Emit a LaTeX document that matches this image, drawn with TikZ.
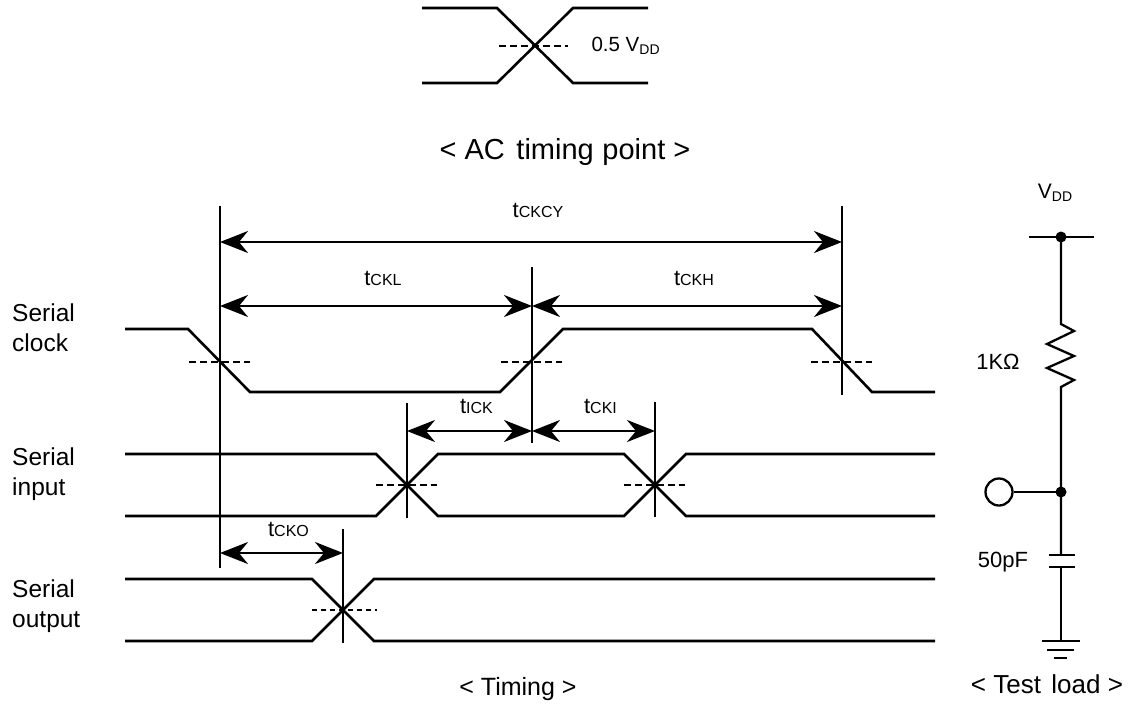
\documentclass[tikz,border=0pt]{standalone}
\usepackage{fontspec}
\setmainfont{Liberation Sans}
\usetikzlibrary{positioning,arrows.meta,calc}
\def\lw{2.6pt}
\tikzstyle{wave}=[line width=\lw,line join=miter]
\tikzstyle{half}=[line width=2.4pt,dash pattern=on 7pt off 4pt]
\tikzstyle{halfthin}=[line width=1.5pt,dash pattern=on 5pt off 4pt]
\tikzstyle{guide}=[line width=\lw]
\tikzstyle{dim}=[line width=2.6pt,{Stealth[length=28pt,width=22pt,inset=9pt]}-{Stealth[length=28pt,width=22pt,inset=9pt]}]
\tikzstyle{wire}=[line width=2.3pt]
\newcommand{\vsub}[1]{\raisebox{-3pt}{\fontsize{14}{14}\selectfont #1}}
\newcommand{\tsub}[1]{t{\fontsize{16}{16}\selectfont #1}}
\newcommand{\newTiming}[5]{\draw[dim] (#1 |- 0,#3) -- node[above=#5pt,inner sep=0,xshift=7pt,font=\fontsize{22}{26}\selectfont]{\tsub{#4}} (#2 |- 0,#3);}

\begin{document}
\begin{tikzpicture}[x=1pt,y=-1pt]
    \useasboundingbox (0,0) rectangle (1138,710);
    % AC timing point
    \draw[wave] (422,8) -- (497,8) -- (573,83) -- (648,83);
    \draw[wave] (422,83) -- (497,83) -- (573,8) -- (648,8);
    \draw[half] (499,46) -- (568,46);
    \node[anchor=west,font=\fontsize{20.5}{24}\selectfont] (vref) at (588,46) {0.5 V\vsub{DD}};
    \node[anchor=base,font=\fontsize{29}{34}\selectfont] (actitle) at (565,159) {< AC\hspace{0.4em}timing\hspace{0.3em}point >};
    % waveforms
    \draw[wave] (125,329) -- (188,329) -- (250,392) -- (500,392) -- (563,329) -- (812,329) -- (872,392) -- (935,392);
    \draw[wave] (125,454) -- (376,454) -- (438,516) -- (624,516) -- (686,454) -- (935,454);
    \draw[wave] (125,516) -- (376,516) -- (438,454) -- (624,454) -- (686,516) -- (935,516);
    \draw[wave] (125,579) -- (312,579) -- (374,641) -- (935,641);
    \draw[wave] (125,641) -- (312,641) -- (374,579) -- (935,579);
    \coordinate (clkA) at (220,362);
    \coordinate (clkB) at (532,362);
    \coordinate (clkC) at (842,362);
    \coordinate (inA) at (407,485);
    \coordinate (inB) at (655,485);
    \coordinate (outA) at (343,610);
    \foreach \c in {clkA,clkB,clkC,inA,inB}
        \draw[half] ([xshift=-31pt]\c) -- ([xshift=30pt]\c);
    \draw[halfthin] ([xshift=-31pt]outA) -- ([xshift=34pt]outA);
    \draw[guide] (clkA |- 0,206) -- (clkA |- 0,568);
    \draw[guide] (clkB |- 0,267) -- (clkB |- 0,443);
    \draw[guide] (clkC |- 0,206) -- (clkC |- 0,395);
    \draw[guide] (inA |- 0,403) -- (inA |- 0,518);
    \draw[guide] (inB |- 0,402) -- (inB |- 0,517);
    \draw[line width=1.5pt] (outA |- 0,529) -- (outA |- 0,643);
    \newTiming{clkA}{clkC}{242}{CKCY}{23}
    \newTiming{clkA}{clkB}{306}{CKL}{19}
    \newTiming{clkB}{clkC}{306}{CKH}{19}
    \newTiming{inA}{clkB}{431}{ICK}{16}
    \newTiming{clkB}{inB}{431}{CKI}{16}
    \newTiming{clkA}{outA}{553}{CKO}{15}
    \node[anchor=west,align=left,inner sep=0,font=\fontsize{24.5}{30}\selectfont] (sclk) at (12,328) {Serial\\clock};
    \node[anchor=west,align=left,inner sep=0,font=\fontsize{24.5}{30}\selectfont] (sin) at (12,474) {Serial\\input};
    \node[anchor=west,align=left,inner sep=0,font=\fontsize{24.5}{30}\selectfont] (sout) at (12,606) {Serial\\output};
    \node[anchor=base,font=\fontsize{25}{30}\selectfont] (timing) at (518,695) {< Timing >};
    % test load
    \coordinate (vtop) at (1061,237);
    \coordinate (vmid) at (1061,492);
    \draw[wire] (1029,237) -- (1094,237);
    \draw[wire] (vtop) -- (1061,324) -- (1074,331) -- (1047,344) -- (1074,356) -- (1047,368) -- (1074,380) -- (1061,387) -- (vmid) -- (1061,555);
    \draw[line width=2.8pt] (1049,555) -- (1075,555) (1049,567) -- (1075,567);
    \draw[wire] (1061,567) -- (1061,641);
    \draw[line width=2.8pt] (1042,641) -- (1080,641) (1047,650) -- (1074,650) (1054,658) -- (1067,658);
    \fill (vtop) circle (5.5pt);
    \fill (vmid) circle (5.5pt);
    \node[draw,circle,wire,minimum size=27pt,inner sep=0] (pin) at (999,492) {};
    \draw[wire] (pin) -- (vmid);
    \node[font=\fontsize{21}{24}\selectfont] (vdd) at (1055,193) {V\vsub{DD}};
    \node[font=\fontsize{22}{26}\selectfont] (rlab) at (998,362) {1KΩ};
    \node[font=\fontsize{22}{26}\selectfont] (clab) at (1003,562) {50pF};
    \node[anchor=base,font=\fontsize{26}{30}\selectfont] (load) at (1047,693) {< Test\hspace{0.4em}load >};
\end{tikzpicture}
\end{document}
